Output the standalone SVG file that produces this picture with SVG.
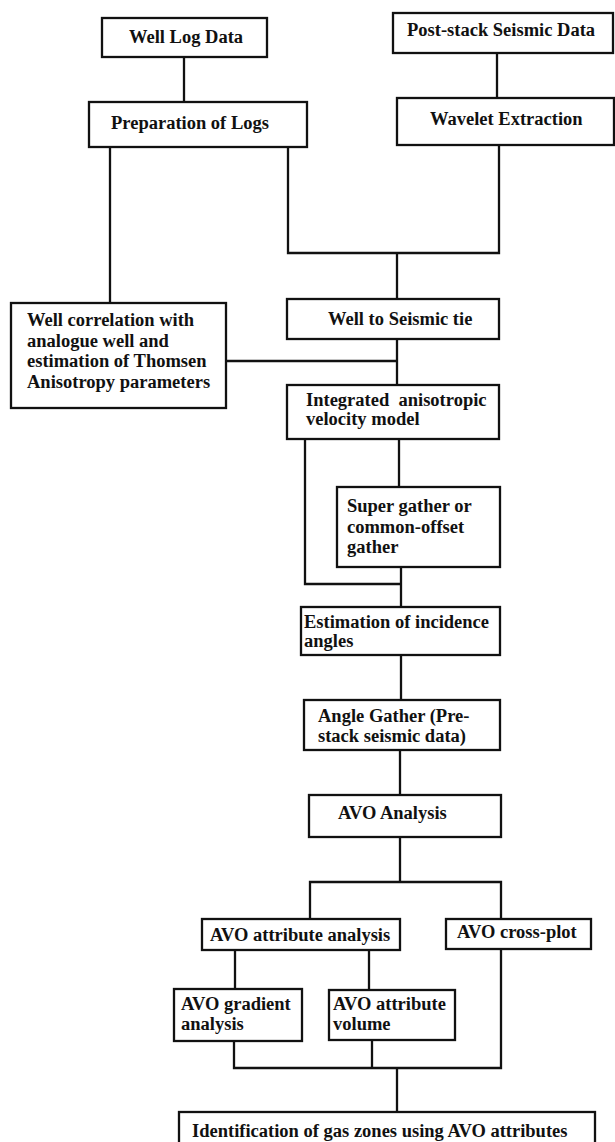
<svg xmlns="http://www.w3.org/2000/svg" width="615" height="1142" viewBox="0 0 615 1142">
<style>
.box{fill:#fff;stroke:#111;stroke-width:2.3}
.t{font-family:"Liberation Serif","Times New Roman",serif;font-weight:bold;font-size:18.5px;fill:#111}
.c{fill:none;stroke:#111;stroke-width:2.3}
</style>
<rect width="615" height="1142" fill="#fff"/>
<g id="connectors">
<path class="c" d="M184,57V102"/>
<path class="c" d="M497,53V98"/>
<path class="c" d="M288,147V253H499V145"/>
<path class="c" d="M397,253V299"/>
<path class="c" d="M110,147V303"/>
<path class="c" d="M397,339V385"/>
<path class="c" d="M226,361H397"/>
<path class="c" d="M399,439V487"/>
<path class="c" d="M305,439V584H401"/>
<path class="c" d="M401,567V607"/>
<path class="c" d="M401,655V700"/>
<path class="c" d="M400,750V795"/>
<path class="c" d="M400,837V882"/>
<path class="c" d="M310,919V882H501V919"/>
<path class="c" d="M235,950V989"/>
<path class="c" d="M369,950V990"/>
<path class="c" d="M234,1041V1068H501V949"/>
<path class="c" d="M372,1040V1068"/>
<path class="c" d="M397,1068V1112"/>
</g>
<g id="well-log-data"><rect class="box" x="102" y="18" width="165" height="39"/><text class="t" x="129" y="43">Well Log Data</text></g>
<g id="preparation-of-logs"><rect class="box" x="89" y="102" width="218" height="45"/><text class="t" x="111" y="129">Preparation of Logs</text></g>
<g id="post-stack"><rect class="box" x="393" y="13" width="220" height="40"/><text class="t" x="407" y="36">Post-stack Seismic Data</text></g>
<g id="wavelet-extraction"><rect class="box" x="397" y="98" width="217" height="47"/><text class="t" x="430" y="125">Wavelet Extraction</text></g>
<g id="well-correlation"><rect class="box" x="11" y="303" width="215" height="105"/><text class="t" x="27" y="326">Well correlation with</text><text class="t" x="27" y="347">analogue well and</text><text class="t" x="27" y="367">estimation of Thomsen</text><text class="t" x="27" y="388">Anisotropy parameters</text></g>
<g id="well-to-seismic-tie"><rect class="box" x="287" y="299" width="212" height="40"/><text class="t" x="328" y="325">Well to Seismic tie</text></g>
<g id="integrated-velocity-model"><rect class="box" x="287" y="385" width="212" height="54"/><text class="t" x="306" y="406" xml:space="preserve">Integrated  anisotropic</text><text class="t" x="306" y="425">velocity model</text></g>
<g id="super-gather"><rect class="box" x="337" y="487" width="163" height="80"/><text class="t" x="347" y="512">Super gather or</text><text class="t" x="347" y="533">common-offset</text><text class="t" x="347" y="553">gather</text></g>
<g id="estimation-incidence"><rect class="box" x="301" y="607" width="199" height="48"/><text class="t" x="304" y="628">Estimation of incidence</text><text class="t" x="304" y="647">angles</text></g>
<g id="angle-gather"><rect class="box" x="304" y="700" width="196" height="50"/><text class="t" x="318" y="722">Angle Gather (Pre-</text><text class="t" x="318" y="742">stack seismic data)</text></g>
<g id="avo-analysis"><rect class="box" x="309" y="795" width="192" height="42"/><text class="t" x="338" y="819">AVO Analysis</text></g>
<g id="avo-attribute-analysis"><rect class="box" x="202" y="919" width="198" height="31"/><text class="t" x="210" y="941">AVO attribute analysis</text></g>
<g id="avo-cross-plot"><rect class="box" x="446" y="919" width="145" height="30"/><text class="t" x="457" y="938">AVO cross-plot</text></g>
<g id="avo-gradient"><rect class="box" x="174" y="989" width="128" height="52"/><text class="t" x="181" y="1010">AVO gradient</text><text class="t" x="181" y="1030">analysis</text></g>
<g id="avo-attribute-volume"><rect class="box" x="329" y="990" width="126" height="50"/><text class="t" x="333" y="1010">AVO attribute</text><text class="t" x="333" y="1030">volume</text></g>
<g id="identification"><rect class="box" x="179" y="1112" width="416" height="40"/><text class="t" x="192" y="1137">Identification of gas zones using AVO attributes</text></g>
</svg>
